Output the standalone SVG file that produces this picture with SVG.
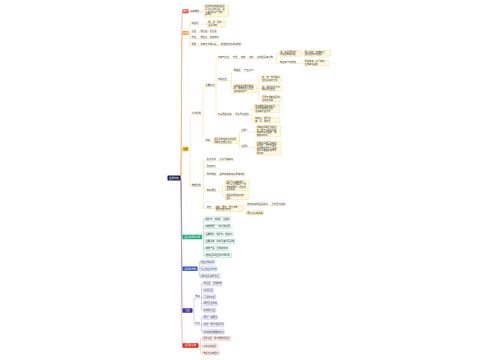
<svg xmlns="http://www.w3.org/2000/svg" width="500" height="360" viewBox="0 0 500 360">
<style>
text{font-family:"Noto Sans CJK SC","Noto Sans",sans-serif;font-size:2.3px;fill:#3a3a3a}
.s{font-size:2.2px}
.w{fill:#fff}
.c{text-anchor:middle}
.ln{fill:none;stroke-width:.35}
.r{stroke:#ec8a84}.o{stroke:#f5b366}.y{stroke:#efcb5a}.g{stroke:#46c295}.b{stroke:#6f8fe6}.p{stroke:#8f83d8}.rb{stroke:#f08a84}
.by{fill:#fff8dd;stroke:#efcb5a;stroke-width:.3}
.bg{fill:#f2fbf7;stroke:#46c295;stroke-width:.3}
.bb{fill:#f3f6ff;stroke:#6f8fe6;stroke-width:.3}
.bp{fill:#f6f4ff;stroke:#8f83d8;stroke-width:.3}
.br{fill:#fff3f2;stroke:#f08a84;stroke-width:.3}
.tr{fill:none;stroke-width:.6}
</style>
<rect width="500" height="360" fill="#fff"/>
<g id="connectors">
<path class="tr r" d="M180.5,178C181.9,178 181.1,11.3 182.5,11.3"/>
<path class="tr o" d="M180.5,178C181.9,178 181.1,33 182.5,33"/>
<path class="tr y" d="M180.5,178C181.9,178 181.1,148.95 182.5,148.95"/>
<path class="tr g" d="M180.5,178C181.9,178 181.1,237.05 182.5,237.05"/>
<path class="tr b" d="M180.5,178C181.9,178 181.1,268.75 182.5,268.75"/>
<path class="tr p" d="M180.5,178C181.9,178 181.1,310.55 182.5,310.55"/>
<path class="tr rb" d="M180.5,178C181.9,178 181.1,345.55 182.5,345.55"/>
<path class="ln r" d="M188.5,11.3C189.3,11.3 189.2,12.2 190,12.2M200,12.2C202,12.2 202,11 204,11"/>
<path class="ln o" d="M188.5,33H189.7M189.7,24.2V45.5M189.7,24.2H191.3M189.7,32.2H191.3M189.7,38.5H191.3M189.7,45.5H191.3M198.6,24.2H207.5M196.3,32.2H200.3M196.3,38.5H200.3M196.3,45.5H200.3M216.8,45.5H220.5"/>
<path class="ln y" d="M188.5,148.95H190M190,114.8V186.3M190,114.8H191.3M190,186.3H191.3
M200.8,114.8H203M203,86.8V141.3M203,86.8H205.3M203,141.3H205.3
M214.7,86.8H216M216,58.8V115.2M216,58.8H217.5M216,80.8H217.5M216,115.2H217.5
M229.2,58.8H232.5M237.3,58.8H240.5M245.3,58.8H248.5M253.3,58.8H256.5
M272.8,58.8H276.5M276.5,53.5V63.2M276.5,53.5H279.5M276.5,63.2H279.8M301.5,53.5H304M296.3,63.2H304
M227,80.8H231.5M231.5,71.8V88.5M231.5,71.8H233.5M231.5,88.5H233M240.6,71.8H244
M256.5,88.5H258.5M258.5,78.6V98.6M258.5,78.6H261.5M258.5,88.2H261.5M258.5,98.6H261.5
M231.5,115.2H234.8M248.8,115.2H252M252,108.7V119.95M252,108.7H254.5M252,119.95H254.5
M210.3,141.3H213.5M238,140.8H239.5M239.5,131.8V147.5M239.5,131.8H241.3M239.5,147.5H241.3M248.6,131.8H256M248.6,147.5H256
M200.8,186.3H203.5M203.5,160.8V208.5M203.5,160.8H206.5M203.5,167.8H206.5M203.5,175.2H206.5M203.5,191.2H206.5M203.5,208.5H206.5
M215.9,160.8H219.3M215.9,175.2H219.3
M215.9,191.2H222.5M222.5,185.55V196.75M222.5,185.55H225.5M222.5,196.75H225.5
M211.3,208.5H215M243,208.5H245M245,205.3V212.8M245,205.3H246.8M245,212.8H246.5M267.7,205.3H271.3"/>
<path class="ln g" d="M202,237.05H203.5M203.5,219V255.5M203.5,219H205M203.5,226.5H205M203.5,234H205M203.5,241.5H205M203.5,248.5H205M203.5,255.5H205"/>
<path class="ln b" d="M197.5,268.75H199.3M199.3,262V276M199.3,262H200.5M199.3,268.75H200.5M199.3,276H200.5"/>
<path class="ln p" d="M192.5,310.55H194M194,298V325M194,298H195M194,325H195
M199.8,298H201.5M201.5,283.5V310.2M201.5,283.5H203.3M201.5,290.2H203.3M201.5,297H203.3M201.5,303.5H203.3M201.5,310.2H203.3
M199.8,325H201.5M201.5,317.2V331.8M201.5,317.2H203.3M201.5,324.5H203.3M201.5,331.8H203.3"/>
<path class="ln rb" d="M198.5,345.55H200.5M200.5,338.5V353M200.5,338.5H202.5M200.5,345.8H202.5M200.5,353H202.5"/>
</g>

<g id="n-center"><rect x="167.5" y="175.5" width="13" height="5" rx="0.6" fill="#1d1d4f"/><text x="174" y="178.9" class="w c" style="font-size:2.5px">金属材料</text></g>

<g id="n-concept"><rect x="182.5" y="9.3" width="6" height="4" rx="0.5" fill="#e5433b"/><text x="185.5" y="12.1" class="w c">概念</text></g>
<g id="n-concept-1"><text x="190.2" y="11.6">基本概念</text><path class="ln r" d="M190,12.2H200"/></g>
<g id="n-concept-2"><rect x="204" y="5" width="24.5" height="12" rx="0.5" class="by"/><text class="s" x="205" y="7.4">金属材料包括纯金属</text><text class="s" x="205" y="10">以及它们的合金，是</text><text class="s" x="205" y="12.6">人类使用最广泛的一</text><text class="s" x="205" y="15.2">类材料</text></g>

<g id="n-class"><rect x="182.5" y="31" width="6" height="4" rx="0.5" fill="#f39a36"/><text x="185.5" y="33.8" class="w c">分类</text></g>
<g id="n-class-1"><text x="191.5" y="23.6">纯金属</text><path class="ln o" d="M191.3,24.2H198.6"/></g>
<g id="n-class-1a"><rect x="207.5" y="20.8" width="18" height="6.5" rx="0.5" class="by"/><text class="s" x="208.3" y="23.2">铁、铜、铝等</text><text class="s" x="208.3" y="25.8">金属单质</text></g>
<g id="n-class-2"><text x="191.5" y="31.6">合金</text><path class="ln o" d="M191.3,32.2H196.3"/><text x="200.5" y="31.6">铁合金、铝合金</text><path class="ln o" d="M200.3,32.2H216.8"/></g>
<g id="n-class-3"><text x="191.5" y="37.9">特性</text><path class="ln o" d="M191.3,38.5H196.3"/><text x="200.5" y="37.9">硬度大、熔点较低</text><path class="ln o" d="M200.3,38.5H219"/></g>
<g id="n-class-4"><text x="191.5" y="44.9">用途</text><path class="ln o" d="M191.3,45.5H196.3"/><text x="200.5" y="44.9">建筑与交通工具</text><path class="ln o" d="M200.3,45.5H216.8"/><text x="220.7" y="44.9">航空航天等领域材料</text><path class="ln o" d="M220.5,45.5H241.5"/></g>

<g id="n-prop"><rect x="182.5" y="146.7" width="6" height="4.5" rx="0.5" fill="#f6c62a"/><text x="185.5" y="149.8" class="c" style="fill:#4a3a00">性质</text></g>
<g id="n-chem"><text x="191.5" y="114.2">化学性质</text><path class="ln y" d="M191.3,114.8H200.8"/></g>
<g id="n-react"><text x="205.5" y="86.2">主要反应</text><path class="ln y" d="M205.3,86.8H214.7"/></g>
<g id="n-oxy"><text x="217.7" y="58.2">与氧气反应</text><text x="232.7" y="58.2">常温</text><text x="240.7" y="58.2">加热</text><text x="248.7" y="58.2">点燃</text><text x="256.7" y="58.2">生成金属氧化物</text><path class="ln y" d="M217.5,58.8H229.2M232.5,58.8H237.3M240.5,58.8H245.3M248.5,58.8H253.3M256.5,58.8H272.8"/></g>
<g id="n-oxy-al"><rect x="279.5" y="50.7" width="22" height="5.6" rx="0.5" class="by"/><text class="s" x="280.2" y="52.9">铝：表面易形成一</text><text class="s" x="280.2" y="55.4">层致密的氧化膜</text></g>
<g id="n-oxy-al2"><rect x="304" y="50.2" width="26.5" height="6" rx="0.5" class="by"/><text class="s" x="304.8" y="52.6">阻止铝进一步被氧化，</text><text class="s" x="304.8" y="55.1">因此铝抗腐蚀性好</text></g>
<g id="n-oxy-fe"><text x="280" y="62.6">铁在氧气中燃烧</text><path class="ln y" d="M279.8,63.2H296.3"/></g>
<g id="n-oxy-fe2"><rect x="304" y="60" width="24.5" height="5.8" rx="0.5" class="by"/><text class="s" x="304.7" y="62.3">剧烈燃烧，火星四射，</text><text class="s" x="304.7" y="64.8">生成黑色固体</text></g>
<g id="n-acid"><text x="217.7" y="80.2">与酸反应</text><path class="ln y" d="M217.5,80.8H227"/></g>
<g id="n-acid-1"><text x="233.7" y="71.2">稀盐酸</text><path class="ln y" d="M233.5,71.8H240.6"/><text x="244.2" y="71.2">产生氢气</text><path class="ln y" d="M244,71.8H253.4"/></g>
<g id="n-acid-2"><rect x="233" y="84.2" width="23.5" height="8.6" rx="0.5" class="by"/><text class="s" x="233.7" y="86.5">氢前的金属能与稀盐</text><text class="s" x="233.7" y="89">酸、稀硫酸发生反应</text><text class="s" x="233.7" y="91.5">生成盐和氢气</text></g>
<g id="n-acid-2a"><rect x="261.5" y="75.9" width="20" height="5.5" rx="0.5" class="by"/><text class="s" x="262.1" y="78.1">镁、锌、铁与酸反</text><text class="s" x="262.1" y="80.6">应剧烈程度不同</text></g>
<g id="n-acid-2b"><rect x="261.5" y="85.5" width="20" height="5.5" rx="0.5" class="by"/><text class="s" x="262.1" y="87.7">铜、银等金属不与</text><text class="s" x="262.1" y="90.2">稀酸发生反应</text></g>
<g id="n-acid-2c"><rect x="261.5" y="95.9" width="20" height="5.5" rx="0.5" class="by"/><text class="s" x="262.1" y="98.1">可用于判断金属的</text><text class="s" x="262.1" y="100.6">活动性强弱</text></g>
<g id="n-salt"><text x="217.7" y="114.6">与某些盐溶液</text><path class="ln y" d="M217.5,115.2H231.5"/><text x="235" y="114.6">发生置换反应</text><path class="ln y" d="M234.8,115.2H248.8"/></g>
<g id="n-salt-1"><rect x="254.5" y="104.6" width="25.5" height="8.2" rx="0.5" class="by"/><text class="s" x="255.2" y="106.9">铁与硫酸铜溶液反应，</text><text class="s" x="255.2" y="109.4">生成铜和硫酸亚铁，</text><text class="s" x="255.2" y="111.9">溶液由蓝变浅绿</text></g>
<g id="n-salt-2"><rect x="254.5" y="117.2" width="25.5" height="5.5" rx="0.5" class="by"/><text class="s" x="255.2" y="119.4">前换后，盐可溶，</text><text class="s" x="255.2" y="121.9">钾、钙、钠除外</text></g>
<g id="n-rule"><text x="205.5" y="140.7">规律</text><path class="ln y" d="M205.3,141.3H210.3"/></g>
<g id="n-rule-1"><rect x="213.5" y="137.8" width="24.5" height="6" rx="0.5" class="by"/><text class="s" x="214.2" y="140.1">金属活动性顺序的应用</text><text class="s" x="214.2" y="142.6">判断反应能否发生</text></g>
<g id="n-use-1"><text x="241.5" y="131.2">应用一</text><path class="ln y" d="M241.3,131.8H248.6"/></g>
<g id="n-use-1a"><rect x="256" y="125.8" width="24.5" height="11" rx="0.5" class="by"/><text class="s" x="256.7" y="128">判断金属能否与酸反</text><text class="s" x="256.7" y="130.5">应：位于氢前面的金</text><text class="s" x="256.7" y="133">属能置换出盐酸、稀</text><text class="s" x="256.7" y="135.5">硫酸中的氢</text></g>
<g id="n-use-2"><text x="241.5" y="146.9">应用二</text><path class="ln y" d="M241.3,147.5H248.6"/></g>
<g id="n-use-2a"><rect x="256" y="141.6" width="25" height="13.5" rx="0.5" class="by"/><text class="s" x="256.7" y="143.8">判断金属能否与盐溶</text><text class="s" x="256.7" y="146.3">液反应：位于前面的</text><text class="s" x="256.7" y="148.8">金属能把位于后面的</text><text class="s" x="256.7" y="151.3">金属从其盐溶液中置</text><text class="s" x="256.7" y="153.8">换出来</text></g>

<g id="n-phys"><text x="191.5" y="185.7">物理性质</text><path class="ln y" d="M191.3,186.3H200.8"/></g>
<g id="n-phys-1"><text x="206.7" y="160.2">颜色光泽</text><path class="ln y" d="M206.5,160.8H215.9"/><text x="219.5" y="160.2">大多为银白色</text><path class="ln y" d="M219.3,160.8H233.3"/></g>
<g id="n-phys-2"><text x="206.7" y="167.2">密度较大</text><path class="ln y" d="M206.5,167.8H215.9"/></g>
<g id="n-phys-3"><text x="206.7" y="174.6">导电导热</text><path class="ln y" d="M206.5,175.2H215.9"/><text x="219.5" y="174.6">是电和热的良好导体材料</text><path class="ln y" d="M219.3,175.2H244.8"/></g>
<g id="n-phys-4"><text x="206.7" y="190.6">有延展性</text><path class="ln y" d="M206.5,191.2H215.9"/></g>
<g id="n-phys-4a"><rect x="225.5" y="180.3" width="23.5" height="10.5" rx="0.5" class="by"/><text class="s" x="226.2" y="182.5">金属可以抽成细丝，</text><text class="s" x="226.2" y="185">也可以压成薄片，用</text><text class="s" x="226.2" y="187.5">于制造导线、铝箔等</text><text class="s" x="226.2" y="190">生活用品</text></g>
<g id="n-phys-4b"><rect x="225.5" y="194" width="23.5" height="5.5" rx="0.5" class="by"/><text class="s" x="226.2" y="196.2">金是延展性最好的</text><text class="s" x="226.2" y="198.7">金属</text></g>
<g id="n-phys-5"><text x="206.7" y="207.9">特性</text><path class="ln y" d="M206.5,208.5H211.3"/></g>
<g id="n-phys-5a"><rect x="215" y="205.5" width="28" height="6" rx="0.5" class="by"/><text class="s" x="215.7" y="207.8">熔点、硬度、密度等物</text><text class="s" x="215.7" y="210.3">理性质差异较大</text></g>
<g id="n-phys-5b"><text x="247" y="204.7">熔点最高的金属是钨</text><path class="ln y" d="M246.8,205.3H267.7"/><text x="271.5" y="204.7">汞常温为液态</text><path class="ln y" d="M271.3,205.3H285.3"/></g>
<g id="n-phys-5c"><rect x="246.5" y="210.8" width="17" height="4" rx="0.5" class="by"/><text class="s" x="247.3" y="213.5">硬度最大的是铬</text></g>

<g id="n-res"><rect x="182.5" y="234.8" width="19.5" height="4.5" rx="0.5" fill="#18a477"/><text x="192.25" y="237.85" class="w c">金属资源的利用</text></g>
<g id="n-res-1"><rect x="205" y="216.9" width="25.5" height="4.2" rx="0.5" class="bg"/><text class="s" x="205.7" y="219.8">铁矿石：赤铁矿、磁铁矿</text></g>
<g id="n-res-2"><rect x="205" y="224.4" width="25.5" height="4.2" rx="0.5" class="bg"/><text class="s" x="205.7" y="227.3">炼铁原理：一氧化碳还原</text></g>
<g id="n-res-3"><rect x="205" y="231.9" width="28" height="4.2" rx="0.5" class="bg"/><text class="s" x="205.7" y="234.8">主要原料：铁矿石、焦炭等</text></g>
<g id="n-res-4"><rect x="205" y="239.4" width="30" height="4.2" rx="0.5" class="bg"/><text class="s" x="205.7" y="242.3">主要设备：高炉及其附属设施</text></g>
<g id="n-res-5"><rect x="205" y="246.4" width="23.5" height="4.2" rx="0.5" class="bg"/><text class="s" x="205.7" y="249.3">炼铁产品：生铁和炉渣</text></g>
<g id="n-res-6"><rect x="205" y="253.4" width="26.5" height="4.2" rx="0.5" class="bg"/><text class="s" x="205.7" y="256.3">废旧金属的回收与再利用</text></g>

<g id="n-rust"><rect x="182.5" y="266.5" width="15" height="4.5" rx="0.5" fill="#2f56c6"/><text x="190" y="269.55" class="w c">金属的锈蚀</text></g>
<g id="n-rust-1"><rect x="200.5" y="259.9" width="14.5" height="4.2" rx="0.5" class="bb"/><text class="s" x="201.2" y="262.8">铁生锈的条件</text></g>
<g id="n-rust-2"><rect x="200.5" y="266.65" width="16.5" height="4.2" rx="0.5" class="bb"/><text class="s" x="201.2" y="269.55">防止铁生锈方法</text></g>
<g id="n-rust-3"><rect x="200.5" y="273.9" width="19.5" height="4.2" rx="0.5" class="bb"/><text class="s" x="201.2" y="276.8">保护金属资源途径</text></g>

<g id="n-alloy"><rect x="182.5" y="308.3" width="10" height="4.5" rx="0.5" fill="#3c33a3"/><text x="187.5" y="311.35" class="w c">合金</text></g>
<g id="n-alloy-kind"><text x="195.2" y="297.4">种类</text><path class="ln p" d="M195,298H199.8"/></g>
<g id="n-alloy-k1"><rect x="203.3" y="281.4" width="18.5" height="4.2" rx="0.5" class="bp"/><text class="s" x="204" y="284.3">铁合金：生铁和钢</text></g>
<g id="n-alloy-k2"><rect x="203.3" y="288.1" width="10.5" height="4.2" rx="0.5" class="bp"/><text class="s" x="204" y="291">黄铜合金</text></g>
<g id="n-alloy-k3"><rect x="203.3" y="294.9" width="12.5" height="4.2" rx="0.5" class="bp"/><text class="s" x="204" y="297.8">青铜与白铜</text></g>
<g id="n-alloy-k4"><rect x="203.3" y="301.4" width="14" height="4.2" rx="0.5" class="bp"/><text class="s" x="204" y="304.3">硬铝合金材料</text></g>
<g id="n-alloy-k5"><rect x="203.3" y="308.1" width="12.5" height="4.2" rx="0.5" class="bp"/><text class="s" x="204" y="311">钛和钛合金</text></g>
<g id="n-alloy-adv"><text x="195.2" y="324.4">优点</text><path class="ln p" d="M195,325H199.8"/></g>
<g id="n-alloy-a1"><rect x="203.3" y="315.1" width="14" height="4.2" rx="0.5" class="bp"/><text class="s" x="204" y="318">硬度一般更大</text></g>
<g id="n-alloy-a2"><rect x="203.3" y="322.4" width="20.5" height="4.2" rx="0.5" class="bp"/><text class="s" x="204" y="325.3">熔点一般比纯金属低</text></g>
<g id="n-alloy-a3"><rect x="203.3" y="329.7" width="21" height="4.2" rx="0.5" class="bp"/><text class="s" x="204" y="332.6">抗腐蚀性能更加优良</text></g>

<g id="n-smelt"><rect x="182.5" y="343.3" width="16" height="4.5" rx="0.5" fill="#e4261c"/><text x="190.5" y="346.35" class="w c">金属的冶炼</text></g>
<g id="n-smelt-1"><rect x="202.5" y="336.4" width="28" height="4.2" rx="0.5" class="br"/><text class="s" x="203.2" y="339.3">湿法冶金：铁与硫酸铜反应</text></g>
<g id="n-smelt-2"><rect x="202.5" y="343.7" width="15" height="4.2" rx="0.5" class="br"/><text class="s" x="203.2" y="346.6">火法冶炼金属</text></g>
<g id="n-smelt-3"><rect x="202.5" y="350.9" width="17" height="4.2" rx="0.5" class="br"/><text class="s" x="203.2" y="353.8">电解法冶炼铝等</text></g>
</svg>
